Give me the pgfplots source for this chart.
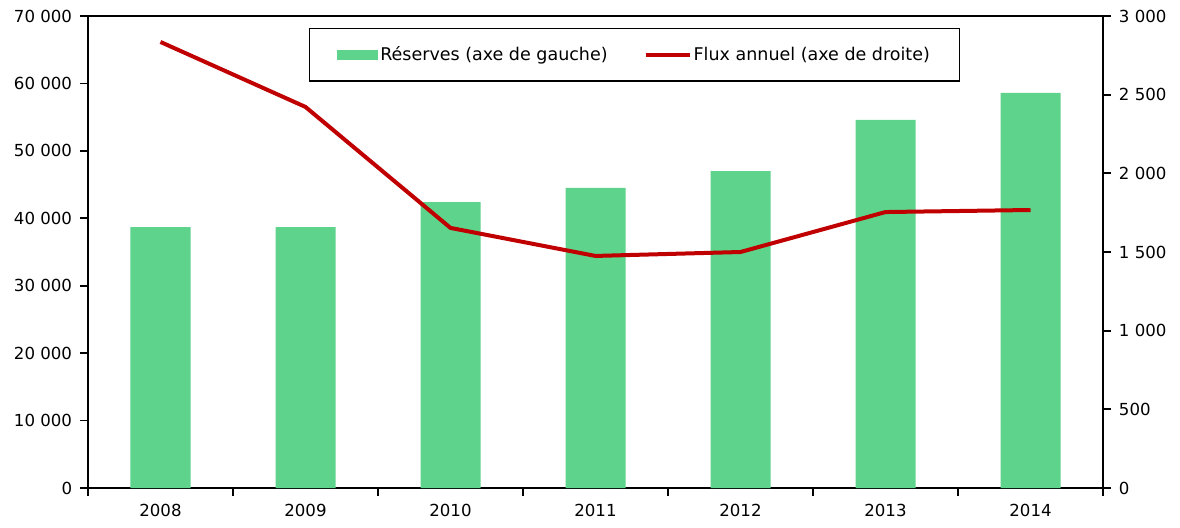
\documentclass[border=0pt]{standalone}
\usepackage{pgfplots}
\pgfplotsset{compat=1.18}
\usepackage{fontspec}
\setmainfont{DejaVu Sans}
\definecolor{barg}{RGB}{94,211,140}
\definecolor{fluxr}{RGB}{192,0,0}
\begin{document}
\fontsize{8.3}{10}\selectfont
\begin{tikzpicture}
\begin{axis}[
  scale only axis, width=507.5pt, height=236pt,
  xmin=-0.5, xmax=6.5, ymin=0, ymax=70000,
  xtick={0,...,6}, xticklabels={2008,2009,2010,2011,2012,2013,2014},
  minor xtick={-0.5,0.5,...,6.5},
  major x tick style={draw=none},
  xtick pos=bottom, ytick pos=left,
  tick align=outside,
  major tick length=4pt, minor tick length=4pt,
  ytick={0,10000,...,70000},
  scaled y ticks=false,
  /pgf/number format/.cd, 1000 sep={\ }, assume math mode=true,
  /pgfplots/.cd,
  yticklabel style={font=\fontsize{8.3}{10}\selectfont, xshift=-1pt},
  xticklabel style={font=\fontsize{8.3}{10}\selectfont, yshift=-1pt},
  axis line style={line width=0.9pt},
  every tick/.style={black, line width=0.9pt},
  ybar, bar width=30pt,
]
\addplot[fill=barg, draw=none] coordinates {(0,38700) (1,38700) (2,42400) (3,44500) (4,47000) (5,54600) (6,58600)};
\coordinate (SW) at (rel axis cs:0,0);
\coordinate (NE) at (rel axis cs:1,1);
\end{axis}
\begin{axis}[
  scale only axis, width=507.5pt, height=236pt,
  xmin=-0.5, xmax=6.5, ymin=0, ymax=3000,
  axis x line=none, axis y line*=right,
  ytick={0,500,...,3000},
  scaled y ticks=false,
  tick align=outside, major tick length=4pt,
  /pgf/number format/.cd, 1000 sep={\ }, assume math mode=true,
  /pgfplots/.cd,
  yticklabel style={font=\fontsize{8.3}{10}\selectfont, xshift=1pt},
  axis line style={line width=0.9pt},
  every tick/.style={black, line width=0.9pt},
  legend columns=2,
  legend style={at={(0.5385,0.9746)}, anchor=north, draw=black, line width=0.6pt,
    font=\fontsize{8.75}{10}\selectfont, inner xsep=14pt, inner ysep=7pt,
    nodes={inner xsep=1pt},
    /tikz/every even column/.append style={column sep=17pt}},
  legend cell align=left,
]
\addlegendimage{legend image code/.code={\fill[barg,draw=none] (0pt,-2.5pt) rectangle (20.5pt,2.5pt);}}
\addlegendentry{Réserves (axe de gauche)}
\addplot[fluxr, line width=2pt, legend image code/.code={\draw[fluxr,line width=2pt] (0pt,0pt) -- (22pt,0pt);}] coordinates {(0,2835) (1,2422) (2,1653) (3,1475) (4,1500) (5,1754) (6,1767)};
\addlegendentry{Flux annuel (axe de droite)}
\end{axis}
\pgfresetboundingbox
\path ([xshift=-44pt,yshift=-19.5pt]SW) rectangle ([xshift=38.5pt,yshift=8pt]NE);
\end{tikzpicture}
\end{document}
